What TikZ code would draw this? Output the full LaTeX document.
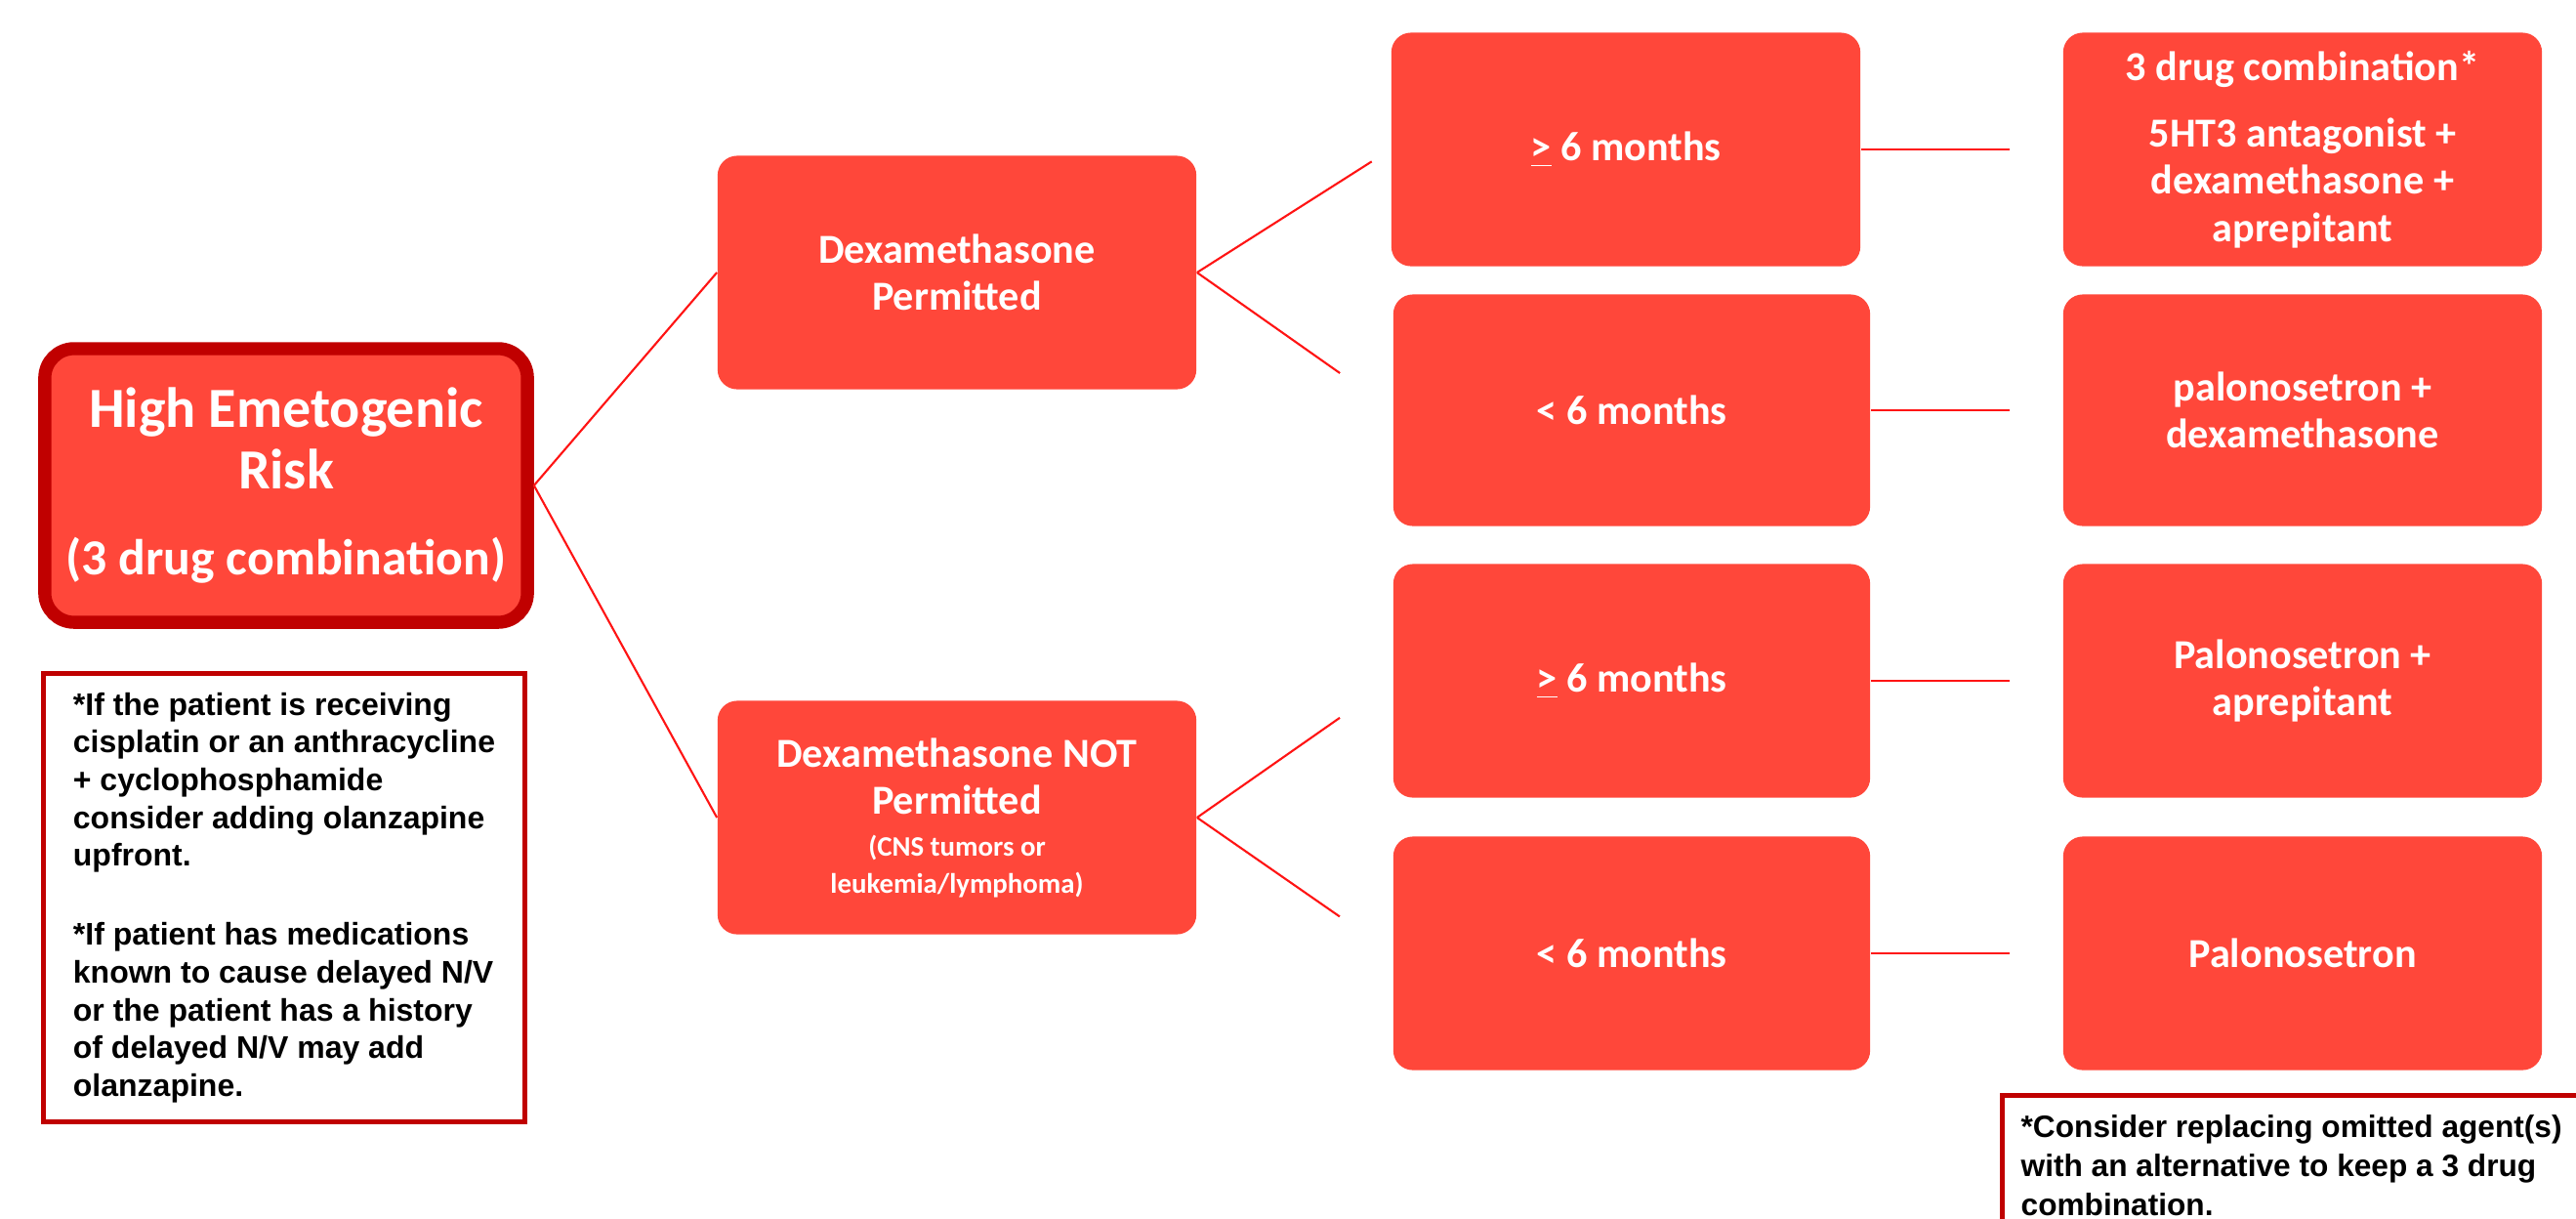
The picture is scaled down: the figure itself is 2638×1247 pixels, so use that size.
\documentclass[tikz,border=0pt]{standalone}
\usepackage{fontspec}
\setmainfont{Carlito}
\newfontfamily\notefont{Liberation Sans}

\definecolor{boxred}{RGB}{255,71,58}
\definecolor{rimred}{RGB}{192,0,0}
\definecolor{linkred}{RGB}{255,20,20}

\tikzset{
  stepbox/.style={rectangle, rounded corners=0.2cm, fill=boxred, text=white,
    align=center, inner sep=0pt, minimum width=4.9cm, minimum height=2.39cm,
    font=\bfseries\fontsize{12}{13.7}\selectfont},
  riskbox/.style={stepbox, draw=rimred, line width=3.8pt, rounded corners=0.3cm,
    minimum width=4.94cm, minimum height=2.8cm,
    font=\bfseries\fontsize{16.5}{18}\selectfont},
  notebox/.style={rectangle, draw=rimred, line width=1.5pt, fill=white, align=left,
    font=\notefont\bfseries\fontsize{9.1}{11}\selectfont},
  link/.style={draw=linkred, line width=0.6pt},
}
\newcommand{\smalltxt}{\fontsize{8.2}{10.8}\selectfont}

\begin{document}
\begin{tikzpicture}[x=0.01cm, y=-0.01cm]
  \useasboundingbox (0,0) rectangle (2638,1247);
  \clip (0,0) rectangle (2638,1247);

  % root
  \node[riskbox] (risk) at (293,497) {High Emetogenic\\Risk\\[0.24cm]{\fontsize{14.7}{18}\selectfont (3 drug combination)}};

  % dexamethasone yes / no
  \node[stepbox] (dexyes) at (980,279) {Dexamethasone\\Permitted};
  \node[stepbox] (dexno) at (980,837) {Dexamethasone NOT\\Permitted\\[-1.5pt]{\smalltxt (CNS tumors or}\\[-2.9pt]{\smalltxt leukemia/lymphoma)}};

  % age
  \node[stepbox, minimum width=4.8cm] (age1) at (1665,153) {\underline{>} 6 months};
  \node[stepbox, minimum width=4.88cm, minimum height=2.37cm] (age2) at (1671,420) {< 6 months};
  \node[stepbox, minimum width=4.88cm] (age3) at (1671,697) {\underline{>} 6 months};
  \node[stepbox, minimum width=4.88cm] (age4) at (1671,976) {< 6 months};

  % regimens
  \node[stepbox] (drug1) at (2358,153) {3 drug combination*\\[0.2cm]5HT3 antagonist +\\dexamethasone +\\aprepitant};
  \node[stepbox, minimum height=2.37cm] (drug2) at (2358,420) {palonosetron +\\dexamethasone};
  \node[stepbox] (drug3) at (2358,697) {Palonosetron +\\aprepitant};
  \node[stepbox] (drug4) at (2358,976) {Palonosetron};

  % notes
  \node[notebox, minimum width=4.93cm, minimum height=4.59cm] (noteleft) at (291,919)
    {*If the patient is receiving\\cisplatin or an anthracycline\\+ cyclophosphamide\\consider adding olanzapine\\upfront.\\[0.42cm]*If patient has medications\\known to cause delayed N/V\\or the patient has a history\\of delayed N/V may add\\olanzapine.};
  \node[notebox, anchor=north west, inner xsep=0.19cm, inner ysep=0.2cm,
    font=\notefont\bfseries\fontsize{9}{11.3}\selectfont] (noteright) at (2048,1119)
    {*Consider replacing omitted agent(s)\\with an alternative to keep a 3 drug\\combination.\\ \\};

  % connectors
  \draw[link] (risk.east) -- (dexyes.west);
  \draw[link] (risk.east) -- (dexno.west);
  \draw[link, shorten >=0.23cm] (dexyes.east) -- (age1.west);
  \draw[link, shorten >=0.66cm] (dexyes.east) -- (age2.west);
  \draw[link, shorten >=0.66cm] (dexno.east) -- (age3.west);
  \draw[link, shorten >=0.66cm] (dexno.east) -- (age4.west);
  \foreach \i in {1,...,4}
    \draw[link, shorten >=0.54cm] (age\i.east) -- (drug\i.west);
\end{tikzpicture}
\end{document}
